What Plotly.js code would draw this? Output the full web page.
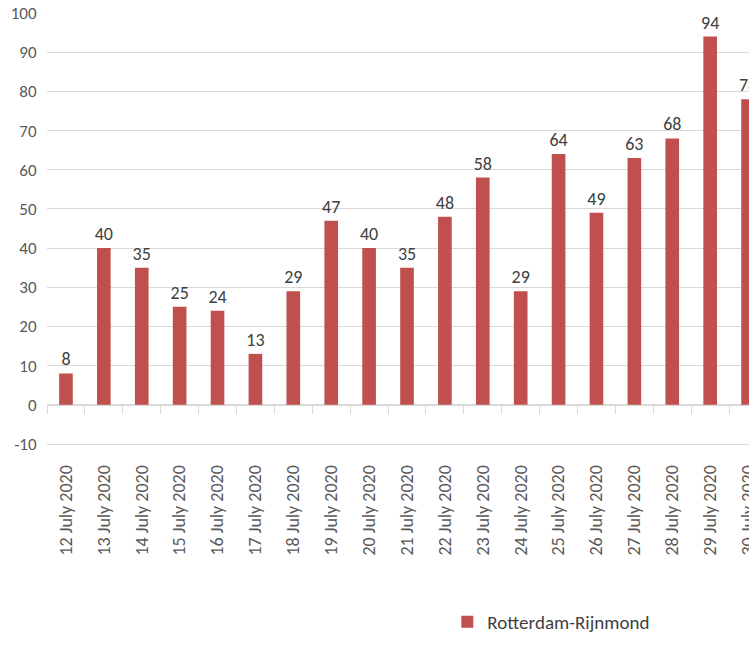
<!DOCTYPE html>
<html>
<head>
<meta charset="utf-8">
<script src="https://cdn.plot.ly/plotly-3.0.1.min.js"></script>
<style>
  html, body { margin: 0; padding: 0; background: #fff; overflow: hidden; }
  #wrap { width: 749px; height: 654px; overflow: hidden; }
  #chart { width: 800px; height: 654px; }
</style>
</head>
<body>
<div id="wrap"><div id="chart"></div></div>
<script>
const categories = ["12 July 2020","13 July 2020","14 July 2020","15 July 2020","16 July 2020","17 July 2020","18 July 2020","19 July 2020","20 July 2020","21 July 2020","22 July 2020","23 July 2020","24 July 2020","25 July 2020","26 July 2020","27 July 2020","28 July 2020","29 July 2020","30 July 2020"];
const values = [8,40,35,25,24,13,29,47,40,35,48,58,29,64,49,63,68,94,78];
const seriesName = "Rotterdam-Rijnmond";
const yTicks = [-10,0,10,20,30,40,50,60,70,80,90,100];

const FONT = "Carlito, Lato, 'Open Sans', sans-serif";

const traces = [
  {
    type: "bar",
    x: categories,
    y: values,
    name: seriesName,
    marker: { color: "#C0504D" },
    text: values.map(String),
    textposition: "outside",
    constraintext: "none",
    textfont: { family: FONT, size: 18, color: "#404040" },
    cliponaxis: false,
    hoverinfo: "x+y"
  },
  {
    type: "scatter",
    mode: "none",
    x: categories,
    y: values,
    xaxis: "x2",
    showlegend: false,
    hoverinfo: "skip"
  }
];

const layout = {
  width: 800,
  height: 654,
  margin: { l: 47, r: 33, t: 13, b: 210 },
  paper_bgcolor: "#fff",
  plot_bgcolor: "#fff",
  bargap: 0.64,
  font: { family: FONT, size: 17, color: "#595959" },
  showlegend: true,
  legend: {
    orientation: "h",
    x: 0.556, xanchor: "left",
    y: -0.413, yanchor: "middle",
    font: { family: FONT, size: 19, color: "#404040" },
    itemwidth: 30
  },
  xaxis: {
    type: "category",
    range: [-0.5, 18.5],
    showgrid: false,
    zeroline: false,
    showline: true,
    linecolor: "#d9d9d9",
    linewidth: 1,
    ticks: "outside",
    ticklen: 13,
    tickcolor: "rgba(0,0,0,0)",
    tickangle: -90,
    tickfont: { family: FONT, size: 18, color: "#595959" },
    fixedrange: true
  },
  xaxis2: {
    type: "category",
    overlaying: "x",
    anchor: "free",
    position: 10 / 110,
    side: "bottom",
    range: [-0.5, 18.5],
    showgrid: false,
    zeroline: false,
    showline: true,
    linecolor: "#d9d9d9",
    linewidth: 1,
    ticks: "outside",
    tickson: "boundaries",
    ticklen: 8,
    tickcolor: "#d9d9d9",
    tickwidth: 1,
    showticklabels: false
  },
  yaxis: {
    range: [-10, 100],
    tickvals: yTicks,
    ticktext: yTicks.map(String),
    showgrid: true,
    gridcolor: "#d9d9d9",
    gridwidth: 1,
    zeroline: false,
    showline: false,
    ticks: "outside",
    ticklen: 6,
    tickcolor: "rgba(0,0,0,0)",
    tickfont: { family: FONT, size: 17, color: "#595959" },
    fixedrange: true
  }
};

Plotly.newPlot("chart", traces, layout, { displayModeBar: false, staticPlot: true });
</script>
</body>
</html>
